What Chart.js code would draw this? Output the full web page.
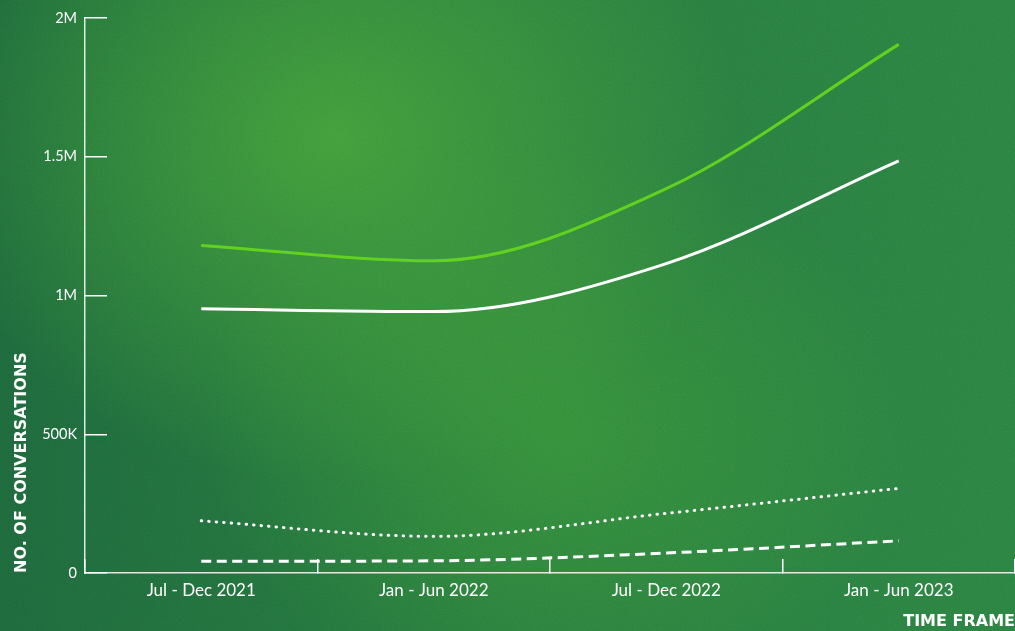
<!DOCTYPE html>
<html>
<head>
<meta charset="utf-8">
<script src="https://cdn.jsdelivr.net/npm/chart.js@4.4.0/dist/chart.umd.min.js"></script>
<style>
html, body { margin: 0; padding: 0; width: 1015px; height: 631px; overflow: hidden; }
body {
    background:
        radial-gradient(ellipse 40% 55% at 33% 22%, rgba(72, 165, 58, 0.85) 0%, rgba(72, 165, 58, 0) 100%),
        radial-gradient(ellipse 35% 45% at 55% 68%, rgba(62, 155, 56, 0.65) 0%, rgba(62, 155, 56, 0) 100%),
        linear-gradient(90deg, #1e683c 0%, #287a3f 50%, #2c8242 100%);
}
#grain {
    position: absolute; left: 0; top: 0; width: 1015px; height: 631px; opacity: 0.18;
    background-image: url("data:image/svg+xml;utf8,<svg xmlns='http://www.w3.org/2000/svg' width='300' height='300'><filter id='n'><feTurbulence type='fractalNoise' baseFrequency='0.9' numOctaves='2' stitchTiles='stitch'/><feColorMatrix type='saturate' values='0'/></filter><rect width='300' height='300' filter='url(%23n)'/></svg>");
    mix-blend-mode: overlay;
}
#canvas { position: absolute; left: 0; top: 0; }
</style>
</head>
<body>
<div id="grain"></div>
<canvas id="canvas" width="1015" height="631"></canvas>
<script>
var periods = ['Jul - Dec 2021', 'Jan - Jun 2022', 'Jul - Dec 2022', 'Jan - Jun 2023'];
var seriesGreen = [1180000, 1125000, 1385000, 1905000];
var seriesWhite = [952000, 942000, 1115000, 1485000];
var seriesDotted = [188000, 132000, 215000, 305000];
var seriesDashed = [42000, 44000, 72000, 116000];
var yTickLabels = ['0', '500K', '1M', '1.5M', '2M'];

var ctx = document.getElementById('canvas').getContext('2d');

var myChart = new Chart(ctx, {
    type: 'line',
    data: {
        labels: periods,
        datasets: [{
            data: seriesGreen,
            borderColor: '#62d11f',
            borderWidth: 3
        }, {
            data: seriesWhite,
            borderColor: '#ffffff',
            borderWidth: 3
        }, {
            data: seriesDotted,
            borderColor: '#ffffff',
            borderWidth: 3,
            borderDash: [0.5, 7],
            borderCapStyle: 'round'
        }, {
            data: seriesDashed,
            borderColor: '#ffffff',
            borderWidth: 3,
            borderDash: [10, 5.5]
        }]
    },
    options: {
        responsive: false,
        animation: false,
        layout: { padding: { top: 18, right: 0, left: 0, bottom: 0 } },
        elements: {
            point: { radius: 0 },
            line: { cubicInterpolationMode: 'monotone', fill: false }
        },
        plugins: {
            legend: { display: false },
            tooltip: { enabled: false }
        },
        scales: {
            x: {
                offset: true,
                grid: { offset: true, drawOnChartArea: false, tickLength: -14, color: '#ffffff', lineWidth: 1.5 },
                border: { color: 'rgba(255,255,255,0.85)', width: 1.5 },
                ticks: { color: '#ffffff', font: { family: 'Lato', size: 17 }, padding: 21, maxRotation: 0, autoSkip: false },
                title: {
                    display: true,
                    text: 'TIME FRAME',
                    align: 'end',
                    color: '#ffffff',
                    font: { family: 'DejaVu Sans', size: 16, weight: 'bold' },
                    padding: { top: 0, bottom: 0 }
                },
                afterFit: function (scale) {
                    scale.height = 58;
                    scale.paddingLeft = 0;
                    scale.paddingRight = 0;
                }
            },
            y: {
                min: 0,
                max: 2000000,
                grid: { drawOnChartArea: false, tickLength: -22, color: '#ffffff', lineWidth: 1.5 },
                border: { color: 'rgba(255,255,255,0.85)', width: 1.5 },
                ticks: {
                    stepSize: 500000,
                    color: '#ffffff',
                    font: { family: 'Lato', size: 14.5 },
                    padding: 30,
                    callback: function (value, index) { return yTickLabels[index]; }
                },
                title: {
                    display: true,
                    text: 'NO. OF CONVERSATIONS',
                    align: 'start',
                    color: '#ffffff',
                    font: { family: 'DejaVu Sans', size: 16, weight: 'bold' },
                    padding: { top: 12, bottom: 0 }
                },
                afterFit: function (scale) {
                    scale.width = 85;
                    scale.paddingTop = 0;
                    scale.paddingBottom = 0;
                }
            }
        }
    }
});
</script>
</body>
</html>
